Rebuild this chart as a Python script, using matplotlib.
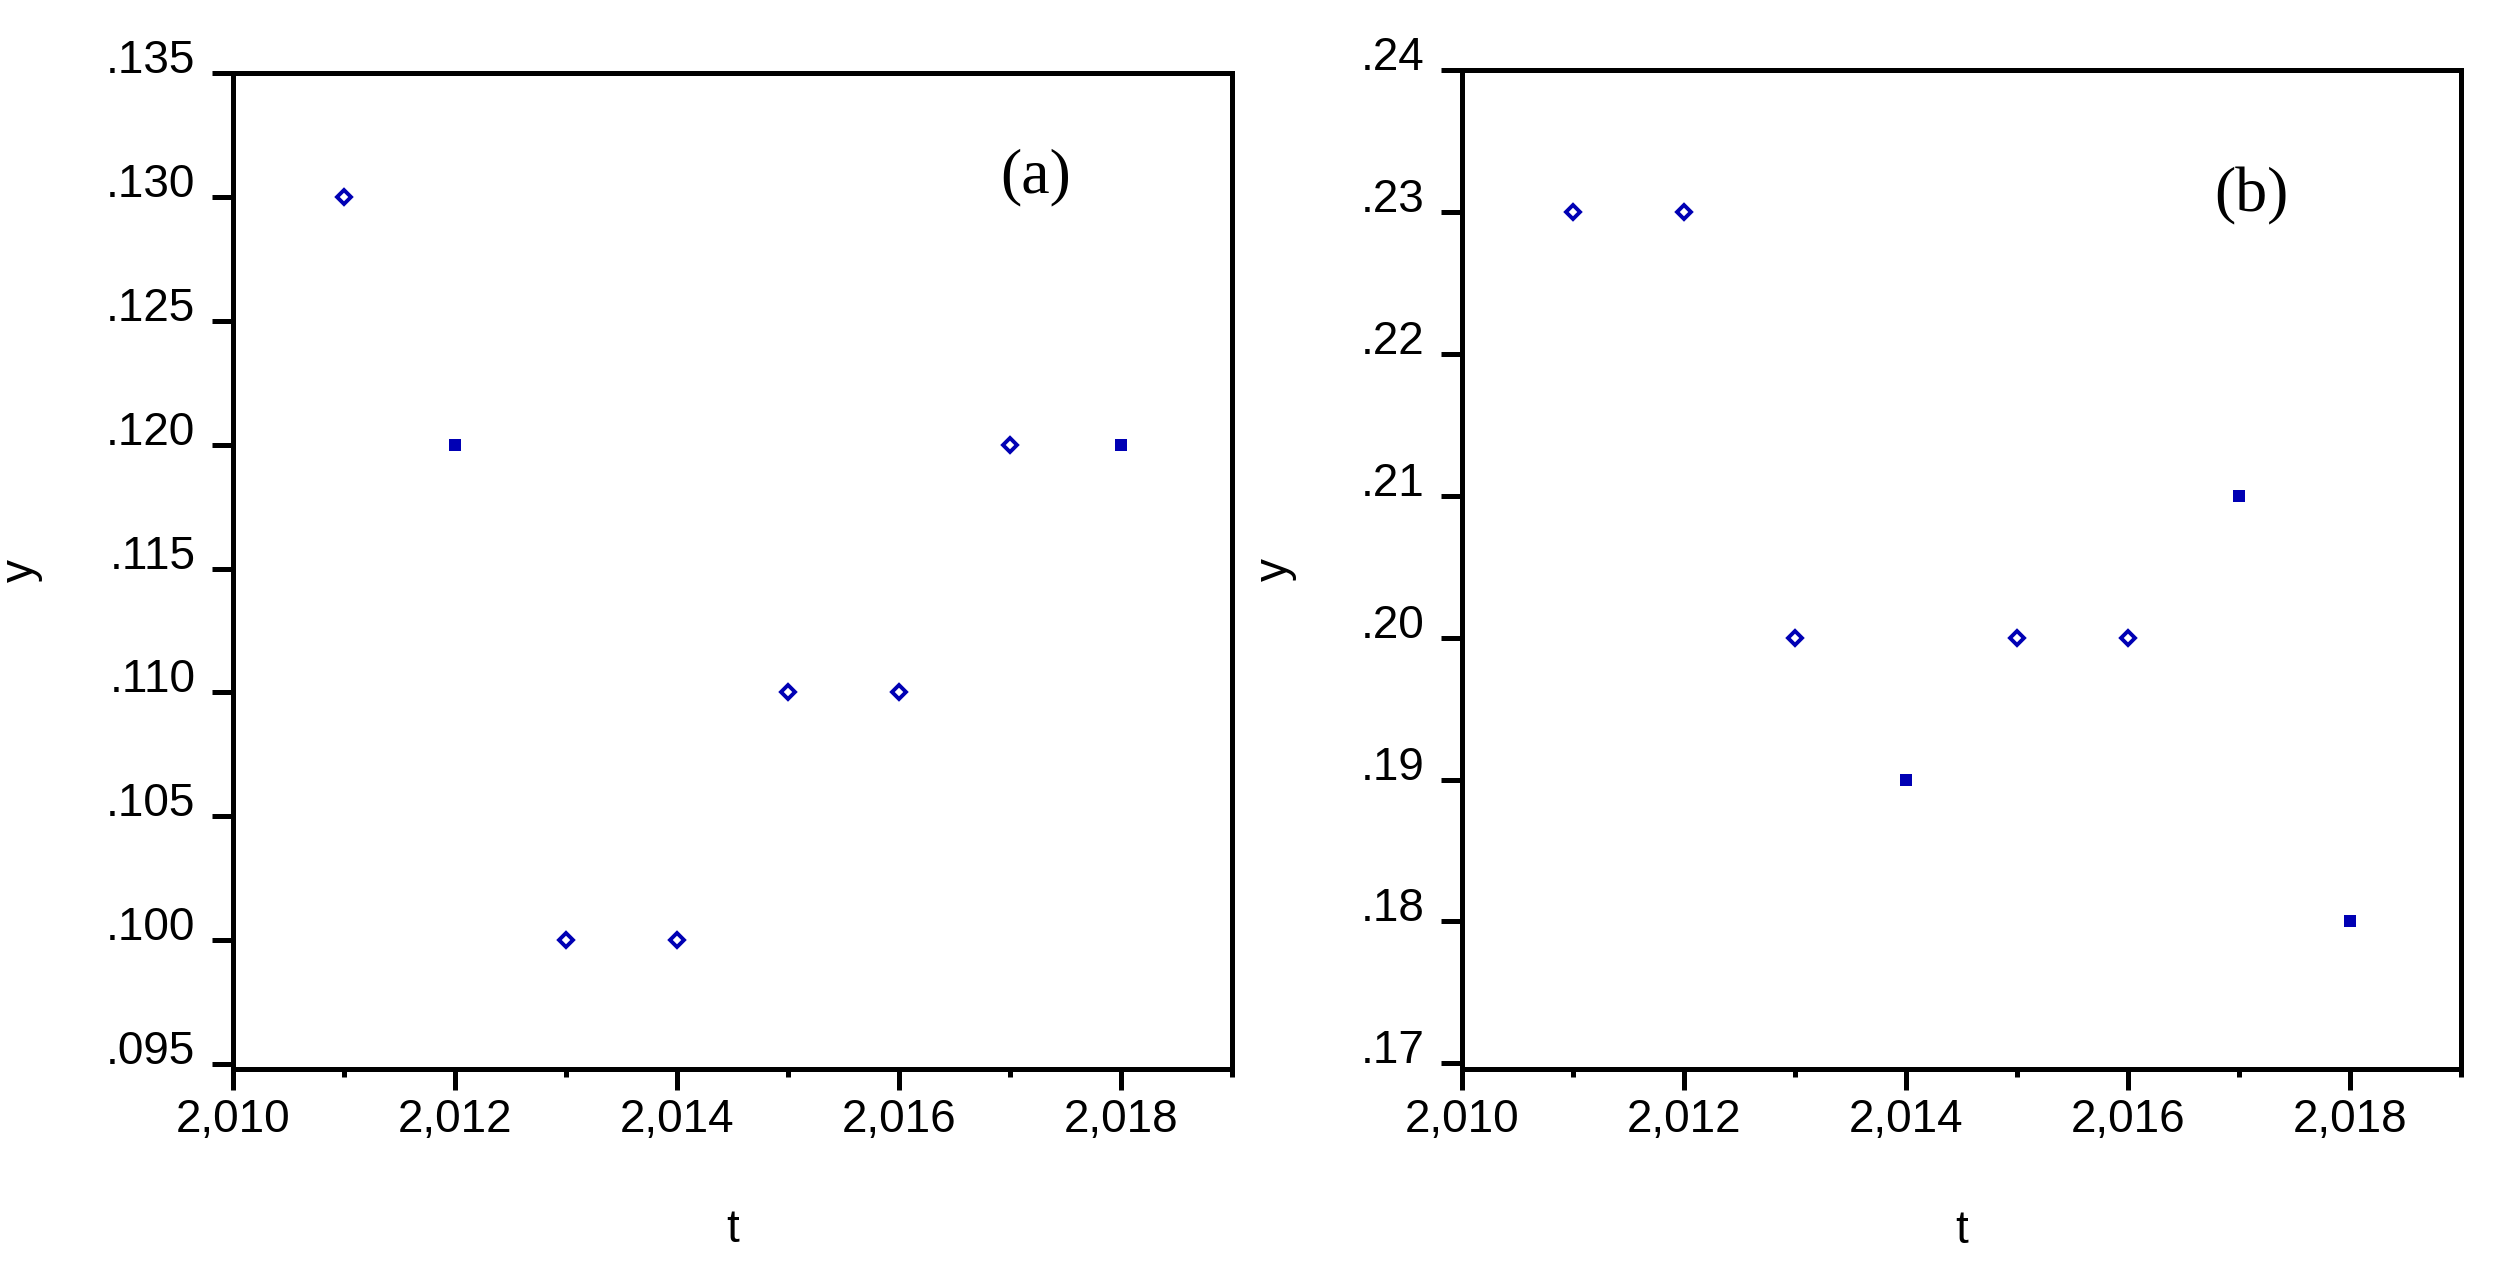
import matplotlib
matplotlib.use('Agg')
import matplotlib.pyplot as plt
from matplotlib.ticker import FuncFormatter, MultipleLocator

# data
years = [2011, 2012, 2013, 2014, 2015, 2016, 2017, 2018]
y_a = [0.130, 0.120, 0.100, 0.100, 0.110, 0.110, 0.120, 0.120]
y_b = [0.23, 0.23, 0.20, 0.19, 0.20, 0.20, 0.21, 0.18]
# points drawn as solid squares in the picture (the rest are small hollow diamonds)
solid_a = [False, True, False, False, False, False, False, True]
solid_b = [False, False, False, True, False, False, True, True]

panel_labels = ['(a)', '(b)']
label_pos = [(2017.23, 0.1308), (2017.11, 0.2311)]
ylims = [(0.0948, 0.135), (0.1696, 0.24)]
ysteps = [0.005, 0.01]
yfmt = ['{:.3f}', '{:.2f}']
ylab_x = [-0.19, -0.165]

blue = '#0000B4'
W, H = 2499, 1283

fig = plt.figure(figsize=(W / 100, H / 100), dpi=100)
rects = [[233 / W, 1 - 1069 / H, 999 / W, 996 / H],
         [1462 / W, 1 - 1069 / H, 999 / W, 999 / H]]

for i, yy, solid in [(0, y_a, solid_a), (1, y_b, solid_b)]:
    ax = fig.add_axes(rects[i])
    xo = [x for x, s in zip(years, solid) if not s]
    yo = [v for v, s in zip(yy, solid) if not s]
    xs = [x for x, s in zip(years, solid) if s]
    ys = [v for v, s in zip(yy, solid) if s]
    ax.plot(xo, yo, 'D', ms=7.5, mfc='white', mec=blue, mew=2.8, ls='none', clip_on=False)
    ax.plot(xs, ys, 's', ms=8.8, mfc=blue, mec=blue, mew=0, ls='none', clip_on=False)

    ax.set_xlim(2010, 2019)
    ax.set_ylim(*ylims[i])
    ax.xaxis.set_major_locator(MultipleLocator(2))
    ax.xaxis.set_minor_locator(MultipleLocator(1))
    lo = ylims[i][1] - round((ylims[i][1] - ylims[i][0]) / ysteps[i]) * ysteps[i]
    yt = [lo + k * ysteps[i] for k in range(int(round((ylims[i][1] - lo) / ysteps[i])) + 1)]
    ax.set_yticks(yt)
    f = yfmt[i]
    ax.yaxis.set_major_formatter(FuncFormatter(lambda v, p, f=f: f.format(v).lstrip('0')))
    ax.xaxis.set_major_formatter(FuncFormatter(lambda v, p: f'{int(round(v)):,}'))

    for sp in ax.spines.values():
        sp.set_linewidth(3.6)
    ax.tick_params(axis='both', which='major', width=3.6, labelsize=33)
    ax.tick_params(axis='x', which='major', length=15, pad=6)
    ax.tick_params(axis='x', which='minor', length=6, width=3.6)
    ax.tick_params(axis='y', which='major', length=15, pad=12)
    for lab in ax.get_yticklabels() + ax.get_xticklabels():
        lab.set_fontfamily('Liberation Sans')
    for lab in ax.get_yticklabels():
        lab.set_va('baseline')

    ax.set_xlabel('t', fontsize=33, family='Liberation Sans')
    ax.xaxis.set_label_coords(0.5, -0.14)
    ax.set_ylabel('y', fontsize=33, family='Liberation Sans')
    ax.yaxis.set_label_coords(ylab_x[i], 0.5)

    ax.text(label_pos[i][0], label_pos[i][1], panel_labels[i], fontsize=46,
            family='Liberation Serif', ha='center', va='center')

fig.savefig('out.png', dpi=100)
